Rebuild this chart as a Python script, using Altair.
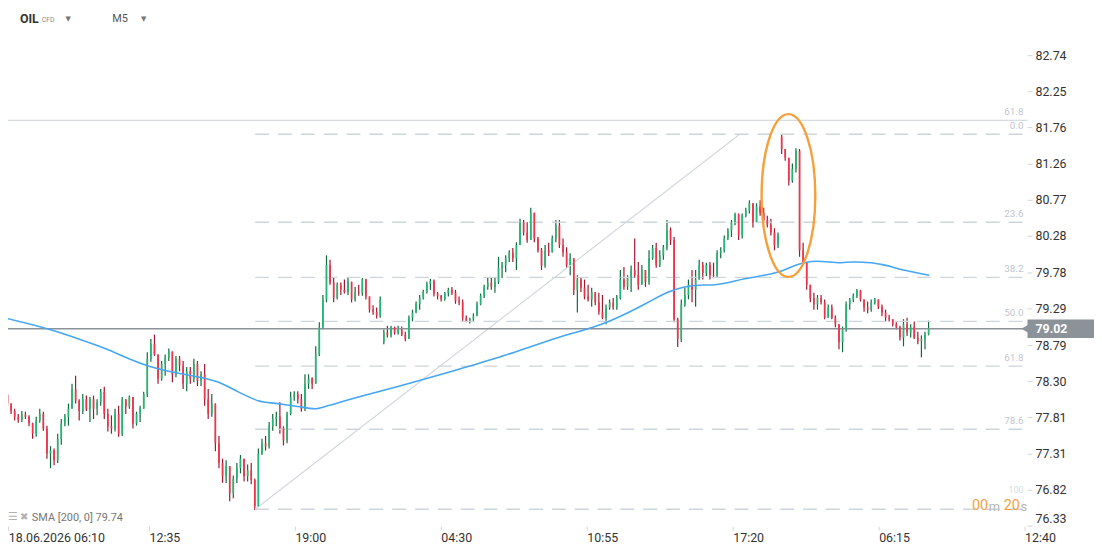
import altair as alt
import pandas as pd

# ---------------- data ----------------
close = [
    78.12, 78.00, 77.90, 77.82, 77.78, 77.85, 77.82, 77.73, 77.59, 77.77,
    77.86, 77.66, 77.32, 77.36, 77.23, 77.52, 77.73, 77.82, 77.93, 78.20,
    78.04, 77.90, 78.06, 77.93, 78.06, 77.93, 78.02, 78.16, 77.86, 77.69,
    77.66, 77.86, 77.59, 78.06, 77.96, 78.09, 77.73, 77.86, 77.93, 78.13,
    78.61, 78.81, 78.67, 78.34, 78.54, 78.63, 78.71, 78.40, 78.61, 78.52,
    78.27, 78.44, 78.34, 78.54, 78.31, 78.40, 78.06, 77.86, 78.00, 77.46,
    77.19, 77.01, 77.15, 76.78, 76.98, 77.12, 77.25, 77.01, 77.09, 76.96,
    76.60, 77.32, 77.46, 77.42, 77.69, 77.79, 77.82, 77.66, 77.50, 77.86,
    78.09, 78.13, 78.06, 77.93, 78.27, 78.34, 78.27, 78.67, 79.04, 79.42,
    79.89, 79.65, 79.44, 79.62, 79.55, 79.52, 79.66, 79.42, 79.52, 79.51,
    79.69, 79.46, 79.28, 79.25, 79.20, 79.42, 78.97, 78.93, 79.04, 78.97,
    79.01, 78.94, 78.88, 79.17, 79.24, 79.36, 79.44, 79.52, 79.63, 79.67,
    79.50, 79.47, 79.42, 79.51, 79.55, 79.51, 79.40, 79.38, 79.17, 79.13,
    79.15, 79.20, 79.35, 79.47, 79.59, 79.65, 79.59, 79.66, 79.85, 79.89,
    79.98, 80.06, 79.98, 80.16, 80.47, 80.33, 80.23, 80.60, 80.25, 80.09,
    79.88, 80.09, 80.06, 80.25, 80.43, 80.16, 80.06, 79.89, 79.98, 79.55,
    79.69, 79.58, 79.46, 79.42, 79.52, 79.38, 79.25, 79.17, 79.31, 79.38,
    79.31, 79.44, 79.69, 79.59, 79.71, 79.82, 79.75, 79.62, 79.82, 79.66,
    79.98, 80.12, 79.89, 80.02, 80.13, 80.36, 80.23, 79.15, 78.88, 79.35,
    79.48, 79.62, 79.55, 79.69, 79.89, 79.78, 79.89, 79.75, 79.74, 80.05,
    80.09, 80.25, 80.36, 80.47, 80.58, 80.29, 80.56, 80.63, 80.73, 80.47,
    80.69, 80.60, 80.50, 80.44, 80.33, 80.16, 80.29, 81.47, 81.35, 81.04,
    81.20, 81.44, 80.09, 79.93, 79.62, 79.44, 79.35, 79.44, 79.38, 79.17,
    79.31, 79.17, 79.08, 78.84, 79.01, 79.35, 79.42, 79.47, 79.54, 79.42,
    79.31, 79.28, 79.38, 79.42, 79.32, 79.24, 79.17, 79.15, 79.08, 79.04,
    78.90, 79.08, 78.97, 79.04, 78.90, 78.85, 78.88, 78.94, 79.02,
]
high = [
    78.20, 78.13, 78.00, 77.93, 77.86, 77.90, 77.89, 77.84, 77.74, 77.82,
    77.93, 77.89, 77.70, 77.42, 77.39, 77.59, 77.79, 77.86, 78.00, 78.27,
    78.38, 78.06, 78.13, 78.11, 78.09, 78.11, 78.06, 78.20, 78.23, 77.93,
    77.84, 77.93, 77.97, 78.09, 78.06, 78.11, 78.09, 77.89, 77.97, 78.16,
    78.70, 78.88, 78.94, 78.67, 78.58, 78.67, 78.75, 78.65, 78.65, 78.65,
    78.58, 78.50, 78.50, 78.61, 78.58, 78.44, 78.54, 78.20, 78.13, 78.00,
    77.56, 77.25, 77.23, 77.15, 77.02, 77.19, 77.30, 77.25, 77.17, 77.19,
    76.98, 77.39, 77.52, 77.56, 77.75, 77.86, 77.89, 78.02, 77.69, 77.89,
    78.16, 78.17, 78.17, 78.13, 78.40, 78.40, 78.36, 78.78, 79.11, 79.48,
    80.02, 79.96, 79.71, 79.65, 79.65, 79.69, 79.71, 79.66, 79.59, 79.62,
    79.71, 79.70, 79.46, 79.34, 79.31, 79.46, 79.01, 79.06, 79.06, 79.05,
    79.06, 79.05, 78.98, 79.20, 79.28, 79.39, 79.48, 79.55, 79.66, 79.70,
    79.69, 79.52, 79.48, 79.52, 79.58, 79.59, 79.55, 79.46, 79.42, 79.20,
    79.17, 79.23, 79.39, 79.50, 79.62, 79.71, 79.71, 79.71, 80.00, 79.93,
    80.02, 80.09, 80.12, 80.20, 80.52, 80.50, 80.47, 80.67, 80.60, 80.27,
    80.12, 80.16, 80.19, 80.29, 80.50, 80.50, 80.25, 80.13, 80.05, 79.98,
    79.75, 79.71, 79.69, 79.62, 79.58, 79.52, 79.51, 79.48, 79.35, 79.42,
    79.44, 79.48, 79.82, 79.86, 79.75, 79.88, 80.25, 79.93, 79.89, 79.78,
    80.09, 80.16, 80.19, 80.09, 80.16, 80.50, 80.40, 80.27, 79.17, 79.42,
    79.58, 79.69, 79.82, 79.82, 79.96, 79.93, 79.92, 79.93, 79.92, 80.09,
    80.13, 80.29, 80.39, 80.50, 80.60, 80.59, 80.59, 80.67, 80.77, 80.73,
    80.73, 80.77, 80.67, 80.56, 80.52, 80.39, 80.33, 81.67, 81.44, 81.35,
    81.27, 81.48, 81.47, 80.19, 79.93, 79.62, 79.51, 79.48, 79.48, 79.42,
    79.35, 79.35, 79.20, 79.08, 79.05, 79.39, 79.44, 79.50, 79.56, 79.55,
    79.42, 79.39, 79.42, 79.44, 79.42, 79.35, 79.28, 79.21, 79.15, 79.11,
    79.06, 79.15, 79.17, 79.08, 79.12, 78.98, 78.93, 78.98, 79.13,
]
low = [
    78.09, 77.96, 77.86, 77.77, 77.74, 77.75, 77.79, 77.69, 77.52, 77.55,
    77.74, 77.63, 77.25, 77.12, 77.16, 77.19, 77.44, 77.69, 77.70, 77.93,
    78.00, 77.77, 77.86, 77.90, 77.75, 77.79, 77.84, 77.97, 77.79, 77.62,
    77.59, 77.62, 77.55, 77.56, 77.86, 77.93, 77.66, 77.70, 77.75, 77.93,
    78.09, 78.57, 78.65, 78.27, 78.31, 78.38, 78.58, 78.29, 78.36, 78.44,
    78.20, 78.17, 78.27, 78.29, 78.24, 78.24, 77.97, 77.79, 77.82, 77.35,
    77.12, 76.92, 76.92, 76.67, 76.71, 76.92, 77.05, 76.94, 76.94, 76.90,
    76.55, 76.60, 77.30, 77.36, 77.39, 77.63, 77.69, 77.59, 77.43, 77.46,
    77.84, 78.04, 78.00, 77.89, 77.90, 78.20, 78.20, 78.27, 78.65, 79.01,
    79.38, 79.62, 79.38, 79.42, 79.48, 79.50, 79.48, 79.38, 79.39, 79.47,
    79.47, 79.42, 79.24, 79.21, 79.16, 79.17, 78.81, 78.90, 78.90, 78.94,
    78.94, 78.92, 78.85, 78.88, 79.12, 79.23, 79.28, 79.42, 79.50, 79.55,
    79.46, 79.42, 79.39, 79.40, 79.46, 79.48, 79.36, 79.34, 79.12, 79.11,
    79.09, 79.12, 79.19, 79.34, 79.44, 79.55, 79.55, 79.51, 79.63, 79.71,
    79.79, 79.93, 79.93, 79.82, 80.16, 80.29, 80.19, 80.23, 80.20, 80.06,
    79.82, 79.85, 80.01, 80.06, 80.20, 80.12, 80.00, 79.85, 79.75, 79.48,
    79.24, 79.52, 79.42, 79.39, 79.32, 79.34, 79.21, 79.15, 79.08, 79.28,
    79.28, 79.28, 79.42, 79.55, 79.55, 79.52, 79.71, 79.55, 79.62, 79.59,
    79.62, 79.96, 79.85, 79.86, 79.96, 80.09, 80.16, 79.11, 78.77, 78.84,
    79.32, 79.42, 79.38, 79.32, 79.69, 79.69, 79.74, 79.69, 79.71, 79.71,
    79.98, 80.06, 80.23, 80.27, 80.43, 80.23, 80.25, 80.54, 80.59, 80.40,
    80.47, 80.56, 80.46, 80.40, 80.29, 80.09, 80.12, 81.40, 81.31, 80.97,
    81.01, 81.15, 80.00, 79.89, 79.55, 79.38, 79.28, 79.28, 79.35, 79.15,
    79.17, 79.15, 79.04, 78.74, 78.70, 78.98, 79.28, 79.38, 79.44, 79.39,
    79.25, 79.23, 79.25, 79.35, 79.29, 79.19, 79.12, 79.12, 79.05, 79.01,
    78.86, 78.78, 78.92, 78.90, 78.88, 78.81, 78.63, 78.74, 78.93,
]
first_open = 78.17
gap_open = {106: 78.84, 217: 81.64}   # candles that open away from the prior close

sma_k = [0, 12.8, 26.6, 40.5, 46.0, 52.4, 59.9, 65.4, 70.9, 76.5, 82.0, 86.7,
         90.3, 95.9, 109.7, 123.6, 137.4, 144.9, 156.0, 164.3, 168.7, 176.2,
         179.0, 185.4, 192.8, 198.4, 206.7, 215.8, 223.3, 226.9, 233.5, 237.1,
         241.9, 245.5, 251.0, 258.2]
sma_v = [79.17, 79.01, 78.78, 78.51, 78.44, 78.38, 78.29, 78.16, 78.04, 78.00,
         77.96, 77.93, 77.97, 78.05, 78.23, 78.42, 78.62, 78.74, 78.92, 79.04,
         79.12, 79.29, 79.36, 79.52, 79.61, 79.62, 79.70, 79.79, 79.92, 79.94,
         79.92, 79.93, 79.92, 79.89, 79.82, 79.75]
sma_last = 79.74

fib_labels = ["0.0", "23.6", "38.2", "50.0", "61.8", "78.6", "100"]
fib_levels = [81.67, 80.47, 79.72, 79.12, 78.51, 77.65, 76.56]
fib_start_k = 70.1
fib_end_k = 284.5
diag_k = [70.1, 205.3]
diag_v = [76.56, 81.67]
ext_label = "61.8"
ext_level = 81.86
last_price = 79.02
ellipse_k = 218.9
ellipse_p = 80.835

y_ticks = [76.33, 76.82, 77.31, 77.81, 78.30, 78.79, 79.29, 79.78, 80.28,
           80.77, 81.26, 81.76, 82.25, 82.74]
x_tick_k = [1.2, 40.47, 81.19, 121.91, 162.63, 203.35, 244.07, 284.79]
x_tick_labels = ["18.06.2026 06:10", "12:35", "19:00", "04:30", "10:55",
                 "17:20", "06:15", "12:40"]

# ---------------- styling ----------------
W, H = 1027, 488
FONT = "Roboto"
G_BODY, G_WICK = "#25b574", "#0f6b3b"
R_BODY, R_WICK = "#f2344b", "#a3172d"
FIB_C = "#cdd5dc"
FIB_TXT = "#bfc7cf"
ORANGE = "#f6a03c"

opens = [first_open] + close[:-1]
for k, v in gap_open.items():
    opens[k] = v
df = pd.DataFrame({"k": range(len(close)), "open": opens, "close": close,
                   "high": high, "low": low})
df["hi"] = df[["high", "open", "close"]].max(axis=1)
df["lo"] = df[["low", "open", "close"]].min(axis=1)
up = df["close"] >= df["open"]
df["wc"] = up.map({True: G_WICK, False: R_WICK})
df["bc"] = up.map({True: G_BODY, False: R_BODY})

xs = alt.Scale(domain=[1.136, 285.6], nice=False, zero=False)
ys = alt.Scale(domain=[76.33, 82.93], nice=False, zero=False)

label_js = "[" + ",".join("'%s'" % t for t in x_tick_labels) + "]"
x_axis = alt.Axis(values=x_tick_k, labelExpr=label_js + "[round((datum.value+0.25)/40.72)]",
                  labelAlign="left", labelFlush=False, labelOverlap=False, labelBound=False,
                  labelFont=FONT, labelFontSize=12.5, labelColor="#333333",
                  tickColor="#d4d4d4", tickSize=4, labelPadding=1,
                  domain=False, grid=False, title=None)


def X(f, axis=None):
    if axis is None:
        return alt.X(f, type="quantitative", scale=xs, title=None)
    return alt.X(f, type="quantitative", scale=xs, axis=axis)


def Y(f):
    return alt.Y(f, type="quantitative", scale=ys, axis=None)


# price scale labels on the right (drawn as text so that every label shows)
yt_df = pd.DataFrame({"v": y_ticks, "t": ["%.2f" % v for v in y_ticks]})
y_tickmarks = alt.Chart(yt_df).mark_rule(color="#d4d4d4", strokeWidth=1).encode(
    x=alt.value(W), x2=alt.value(W + 5), y=Y("v"))
y_labels = alt.Chart(yt_df.iloc[1:]).mark_text(
    align="left", baseline="middle", fontSize=12.5, color="#333333", font=FONT).encode(
    x=alt.value(W + 8), y=Y("v"), text="t:N")
y_label_low = alt.Chart(yt_df.iloc[:1]).mark_text(
    align="left", baseline="bottom", fontSize=12.5, color="#333333", font=FONT).encode(
    x=alt.value(W + 8), y=Y("v"), text="t:N")

# horizontal extension line
ext_df = pd.DataFrame({"p": [ext_level], "t": [ext_label]})
ext_line = alt.Chart(ext_df).mark_rule(color="#c9d3db", strokeWidth=1).encode(y=Y("p"))
ext_txt = alt.Chart(ext_df).mark_text(align="right", baseline="middle", dy=-8,
                                      fontSize=10, color=FIB_TXT, font=FONT).encode(
    x=alt.value(1023), y=Y("p"), text="t:N")

fib_df = pd.DataFrame({"p": fib_levels, "t": fib_labels,
                       "k0": fib_start_k, "k1": fib_end_k})
fib_lines = alt.Chart(fib_df).mark_rule(color=FIB_C, strokeWidth=1.4,
                                        strokeDash=[14, 9], clip=True).encode(
    x=X("k0"), x2="k1", y=Y("p"))
fib_txt_main = alt.Chart(fib_df.iloc[:-1]).mark_text(
    align="right", baseline="middle", dy=-8, fontSize=10, color=FIB_TXT, font=FONT).encode(
    x=alt.value(1023), y=Y("p"), text="t:N")
fib_txt_last = alt.Chart(fib_df.iloc[-1:]).mark_text(
    align="right", baseline="middle", dy=-19, fontSize=9, color="#d6dce1", font=FONT).encode(
    x=alt.value(1023), y=Y("p"), text="t:N")

diag = alt.Chart(pd.DataFrame({"k": diag_k, "p": diag_v})).mark_line(
    color="#d3d8dd", strokeWidth=1.2, clip=True).encode(x=X("k"), y=Y("p"))

price_df = pd.DataFrame({"p": [last_price], "top": [last_price + 0.125],
                         "bot": [last_price - 0.125], "t": ["%.2f" % last_price]})
price_line = alt.Chart(price_df).mark_rule(color="#8b9298", strokeWidth=1.3).encode(y=Y("p"))

wicks = alt.Chart(df).mark_rule(strokeWidth=1.2, clip=True).encode(
    x=X("k", x_axis), y=Y("lo"), y2="hi",
    color=alt.Color("wc:N", scale=None))
bodies = alt.Chart(df).mark_rule(strokeWidth=1.7, clip=True).encode(
    x=X("k"), y=Y("open"), y2="close", color=alt.Color("bc:N", scale=None))

sma = alt.Chart(pd.DataFrame({"k": sma_k, "p": sma_v})).mark_line(
    color="#45a6f4", strokeWidth=1.6, interpolate="monotone", clip=True).encode(
    x=X("k"), y=Y("p"))

ell_path = "M -0.33 0 A 0.33 1 0 1 1 0.33 0 A 0.33 1 0 1 1 -0.33 0 Z"
ellipse = alt.Chart(pd.DataFrame({"k": [ellipse_k], "p": [ellipse_p]})).mark_point(
    shape=ell_path, size=164 * 164, filled=False, stroke=ORANGE, strokeWidth=2.4,
    opacity=1).encode(x=X("k"), y=Y("p"))

box = alt.Chart(price_df).mark_rect(color="#8b9298").encode(
    x=alt.value(1027), x2=alt.value(1094), y=Y("top"), y2="bot")
notch = alt.Chart(price_df).mark_point(shape="triangle-left", filled=True,
                                       color="#8b9298", size=90, opacity=1).encode(
    x=alt.value(1025), y=Y("p"))
box_txt = alt.Chart(price_df).mark_text(align="left", baseline="middle", color="white",
                                        fontSize=12.5, fontWeight="bold", font=FONT).encode(
    x=alt.value(1035), y=Y("p"), text="t:N")

one = pd.DataFrame({"a": [0]})


def txt(s, x, y, size, color, weight="normal", font=FONT):
    return alt.Chart(one).mark_text(text=s, align="left", baseline="middle",
                                    fontSize=size, color=color, fontWeight=weight,
                                    font=font).encode(x=alt.value(x), y=alt.value(y))


texts = [
    txt("OIL", 12, -23, 12.5, "#333333", "bold"),
    txt("CFD", 34, -22, 7, "#8a8a8a"),
    txt("▼", 58, -23, 7, "#777777", font="DejaVu Sans"),
    txt("M5", 105, -23, 11, "#555555"),
    txt("▼", 134, -23, 7, "#777777", font="DejaVu Sans"),
    txt("☰", 0, 479, 11, "#b0b0b0", font="DejaVu Sans"),
    txt("✖", 12, 479, 10, "#b0b0b0", font="DejaVu Sans"),
    txt("SMA [200, 0] %.2f" % sma_last, 24, 480, 11, "#777777"),
    txt("00", 971, 468, 14.5, ORANGE),
    txt("m", 988, 469, 13, "#b5b5b5"),
    txt("20", 1003, 468, 14.5, ORANGE),
    txt("s", 1020, 469, 13, "#b5b5b5"),
]

chart = alt.layer(
    wicks, ext_line, fib_lines, diag, price_line, bodies, sma, ellipse,
    ext_txt, fib_txt_main, fib_txt_last, y_tickmarks, y_labels, y_label_low,
    box, notch, box_txt, *texts
).properties(
    width=W, height=H,
    padding={"left": 0, "top": 32, "right": 67, "bottom": 24},
    autosize=alt.AutoSizeParams(type="none"),
    background="white",
).configure(font=FONT).configure_view(stroke="transparent", strokeWidth=0)

chart.save("out.html", embed_options={"renderer": "svg", "actions": False})
